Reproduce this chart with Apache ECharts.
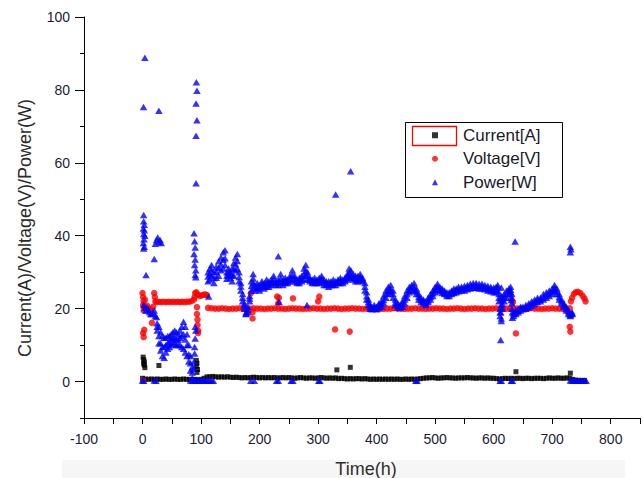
<!DOCTYPE html>
<html>
<head>
<meta charset="utf-8">
<script src="https://cdn.jsdelivr.net/npm/echarts@6/dist/echarts.min.js"></script>
<style>
html,body{margin:0;padding:0;background:#fff;}
#chart{width:643px;height:478px;}
</style>
</head>
<body>
<div id="chart"></div>
<script>
// ---------------- DATA ----------------
const xTickValues = [-100, 0, 100, 200, 300, 400, 500, 600, 700, 800];
const yTickValues = [0, 20, 40, 60, 80, 100];
const seriesNames = ['Current[A]', 'Voltage[V]', 'Power[W]'];

// Current (black squares)
const currentTime = [0,5,10,15,20,25,30,35,40,45,50,55,60,65,70,75,80,
  85,90,95,100,105,110,
  115,120,125,130,135,140,145,150,155,160,165,170,175,180,185,190,195,200,205,210,215,220,225,230,235,240,245,250,255,260,265,270,275,280,285,290,295,300,305,310,315,320,325,330,
  335,340,345,350,355,360,365,370,375,380,385,390,395,400,405,410,415,420,425,430,435,440,445,450,455,460,465,470,475,480,
  485,490,495,500,505,510,515,520,525,530,535,540,545,550,555,560,565,570,575,580,585,590,595,600,
  605,610,615,620,625,630,635,640,645,650,655,660,665,670,675,680,685,690,695,700,705,710,715,720,725,730,735,740,745,750,755,
  1,2,3,2,3,4,28,92,93,92,94,93,332,355,638,731];
const currentValue = [0.9,0.7,0.6,0.7,0.6,0.7,0.6,0.6,0.7,0.6,0.6,0.7,0.6,0.6,0.7,0.6,0.6,
  0.5,0.6,0.5,0.6,0.9,1.3,
  1.3,1.4,1.3,1.2,1.3,1.2,1.3,1.2,1.1,1.2,1.1,1.0,1.1,1.0,1.1,1.2,1.1,1.0,1.1,1.0,1.1,1.0,1.1,1.0,1.0,1.1,1.0,1.1,1.0,0.9,1.0,1.1,1.0,0.9,1.0,1.0,0.9,1.0,1.1,1.0,0.9,1.0,0.9,1.0,
  0.8,0.9,0.8,0.7,0.8,0.7,0.8,0.8,0.7,0.8,0.7,0.6,0.7,0.6,0.7,0.6,0.7,0.6,0.7,0.6,0.7,0.6,0.6,0.7,0.6,0.7,0.6,0.7,0.8,0.9,
  1.0,1.0,1.1,1.0,0.9,1.0,1.0,1.1,1.0,1.0,0.9,1.0,1.0,1.0,1.1,1.0,1.0,0.9,1.0,1.0,0.9,1.0,0.9,0.9,
  0.8,0.7,0.8,0.9,0.8,0.9,0.8,0.9,0.9,0.8,0.9,0.9,0.8,0.9,0.9,0.9,0.8,0.9,1.0,0.9,0.9,1.0,0.9,0.9,1.0,0.9,0.6,0.4,0.3,0.3,0.3,
  6.7,6.0,5.4,4.9,4.5,3.8,4.4,5.8,5.0,4.2,3.3,2.5,3.2,3.9,2.7,2.3];

// Voltage (red circles)
const voltageTime22 = [24,28,32,36,40,44,48,52,56,60,64,68,72,76,80,84,88];
const voltageValue22 = [21.8,21.9,21.8,21.9,21.8,21.9,21.8,21.9,21.8,21.9,21.8,21.9,21.8,21.9,21.9,22.1,22.5];
const voltageTime20 = [112,118,124,130,136,142,148,154,160,166,172,178,184,190,196,202,208,214,220,226,232,238,244,250,256,262,268,274,280,286,292,298,304,310,316,322,328,334,340,346,352,358,364,370,376,382,388,394,400,406,412,418,424,430,436,442,448,454,460,466,472,478,484,490,496,502,508,514,520,526,532,538,544,550,556,562,568,574,580,586,592,598,604,610,616,622,628,634,640,646,652,658,664,670,676,682,688,694,700,706,712,718,724,730];
const voltageValue20 = [20.2,20.1,20,20,20.1,20,19.9,20,20,20.1,
  20,19.9,20,20.1,20,20,19.9,20,20,20.1,
  20,20,19.9,20,20.1,20,20,19.9,20,20,
  20.1,20,20,19.9,20,20,20.1,20,19.9,20,
  20,20.1,20,20,19.9,20,20,20.1,20,20,
  19.9,20,20,20.1,20,20,19.9,20,20,20.1,
  20,20,19.9,20,20,20.1,20,20,19.9,20,
  20,20.1,20,19.9,20,20,20.1,20,20,19.9,
  20,20,20.1,20,19.9,20,20,20.1,20,20,
  19.9,20,20.1,20,20,19.9,20,20,20.1,20,
  20,19.9,20,20.1];
const voltageTimeOther = [0,1,2,1,3,4,2,5,1,2,3,1,8,10,12,14,16,18,20,21,22,
  89,90,92,95,98,101,104,107,110,
  93,93,94,94,95,95,
  732,734,737,740,744,748,752,755,757,
  185,188,188,230,232,233,257,300,302,329,354,613,616,630,633,638,730,731];
const voltageValueOther = [24.3,23.2,22,21,20.5,22.5,19.5,20.3,13.3,12.2,14.2,0.3,20.8,20,19.5,19.8,16.1,20.5,24.3,23.2,22,
  23.2,24.3,24.5,23.8,23.5,23.6,23.8,23.9,23.7,
  20.4,18.5,17,15.5,14,13.3,
  22,23,24,24.5,24.6,24.3,23.5,22.8,22,
  24.2,19,17.3,23.3,21.5,23,22.8,22,23.3,14.3,13.7,22,23.2,22.5,21.8,13.2,15,13.7];

// Power (blue triangles): main band, three readings (upper / middle / lower) per time
const powerBandTime = [112,115,118,122,126,130,134,138,141,144,
  147,150,153,156,159,162,165,168,171,174,
  177,180,183,186,189,192,196,200,204,208,
  212,216,220,224,228,232,236,240,244,248,
  252,256,260,264,268,272,276,279,282,286,
  290,294,298,302,306,310,314,318,322,326,
  330,334,338,342,346,350,353,356,360,364,
  368,372,376,380,383,386,389,392,396,400,
  404,408,412,416,420,424,428,432,436,440,
  444,448,452,456,460,464,468,472,476,480,
  484,488,492,496,500,504,508,512,516,520,
  524,528,532,536,540,545,550,555,560,565,
  570,575,580,585,590,595,600,604,607,609,
  611,613,615,618,622,626,629,631,634,638,
  642,646,650,655,660,665,670,675,680,685,
  690,695,700,704,708,712,716,720,724,728,
  731,734];
const powerBandUpper = [30,31,32,30,31.5,33,34,35.5,36,30,
  31,30,31,32.5,34,35,30,27,24,21.5,
  19,20.5,23.5,27.5,29.5,26.5,27,26.5,27.5,27,
  28,27.5,28,29,27.5,28,29.5,28,28.5,28,
  29,30.5,29,28,28.5,29,31,32,30,28.5,
  28,28.5,28,28.5,29,28,27.5,27.5,27.5,28,
  27.5,28,28.5,28,28.5,29.5,31,30.5,29.5,29,
  29,29.5,28.5,27,24.5,22.5,21,20.5,21,20.5,
  21.5,22,23.5,25,26,26.5,25,22.5,21.5,21,
  22,23.5,25,26,26.5,27,25.5,24,23,22.5,
  22,23,24,25,26,26.8,26,25.5,25,24.5,
  24.5,25,25.5,25.5,26,26,26.3,26.5,26.8,27,
  27,26.8,26.8,26.5,26.3,26,25.8,26,26.5,24,
  20,17.3,22.5,24,25,25.5,26,23,19,19.5,
  20,20.5,20.5,21,21.5,22,22.5,23,23,24,
  24.5,25,25.5,26.5,25.5,24,22.5,21.5,20.5,19.5,
  18.5,19];
const powerBandMiddle = [28.8,29.4,30.6,28.4,30.1,31.2,32.1,33.4,33.8,29.1,
  30,29.3,29.2,30.8,32.2,33.1,28.7,26.1,23,20.8,
  18.7,19.7,22.8,26.2,28.3,25.8,26.2,25.7,26.8,26.3,
  27.1,26.7,27.2,28.1,27,27.3,28.2,27.2,27.8,27.5,
  28.2,29.3,28.3,27.4,27.8,28.2,29.6,30.4,29.1,28,
  27.5,27.7,27.4,27.8,28.2,27.3,27,26.8,27,27.2,
  27.1,27.4,27.7,27.5,28,28.7,29.8,29.4,28.8,28.3,
  28.2,28.7,28,26,23.4,21.8,20.5,20.1,20.4,20.2,
  20.8,21.2,22.4,24.1,25,25.4,24,21.7,20.9,20.6,
  21.2,22.5,24,25.2,25.7,26.1,24.7,23.2,22.4,22,
  21.5,22.3,23.2,24.2,25.3,26,25.4,24.9,24.5,24,
  24,24.5,24.9,25,25.4,25.5,25.6,25.9,26.1,26.3,
  26.4,26.1,26.2,25.9,25.6,25.4,25.1,25.2,25.8,23,
  19,21,21.3,23,24,24.8,25.2,21.5,18.5,19,
  19.5,20,20.2,20.5,20.9,21.4,21.9,22.4,22.5,23.2,
  23.7,24.2,24.7,25.7,24.8,23.2,22,21,20,19,
  18.2,18.7];
const powerBandLower = [27.5,28,29,27,28.5,29,30.5,31,32,28.2,
  29,28.5,27.5,29,30.5,31,27.5,25,22,20,
  18.5,19,22,25,27,25,25.5,25,26,25.5,
  26,26,26.5,27,26.5,26.5,27,26.5,27,27,
  27.5,28,27.5,27,27,27.5,28,29,28,27.5,
  27,27,27,27,27.5,26.5,26.5,26,26.5,26.5,
  26.5,27,27,27,27.5,28,28.5,28.5,28,27.5,
  27.5,28,27.5,25,22.5,21,20,19.8,20,19.8,
  20.2,20.5,21.5,23,24,24.5,23,21,20.3,20.2,
  20.5,21.5,23,24.5,25,25,24,22.5,21.8,21.5,
  21,21.8,22.5,23.5,24.5,25.2,24.8,24.3,24,23.5,
  23.5,24,24.3,24.5,24.8,25,25,25.3,25.5,25.7,
  25.7,25.5,25.5,25.3,25,24.8,24.5,24.5,25,22,
  18,16.6,20,22,23,24,24.5,20,18,18.5,
  19,19.5,19.8,20,20.3,20.8,21.3,21.8,22,22.5,
  23,23.5,24,25,24,22.5,21.5,20.5,19.5,18.5,
  18,18.5];

// Power early decline band (0-90 h): upper / middle / lower readings
const powerDeclineTime = [25,28,31,34,37,40,43,46,49,52,55,58,61,64,67,70,73,76,79,82,85];
const powerDeclineUpper = [16,15,13.5,12.5,12,12,12.5,12.5,13,13.5,14,13.5,13,14,15,16.4,15,13,10,7,4];
const powerDeclineMiddle = [15,12.5,10.5,9.5,9.5,10,10.5,11,11.5,12,12,11.5,11.5,12,12.5,13,11.5,10,7.5,5,2.5];
const powerDeclineLower = [14,10.5,8.5,7,6.5,8,9,9.5,10,10.5,10.5,10,10,10,9.5,9,8,7,5.5,3,1];

// Power isolated readings and spikes
const powerScatterTime = [4,1.7,28,92,93,91.5,93,91.5,91.5,
  2,2,3,1.5,3,2,4,2.5,1.5,3,2,
  22,24,26,28,30,32,20,6,
  2,4,6,8,10,12,14,16,18,20,22,24,
  88,89,90,88,90,89,91,90,91,90,91,90,89,89,88,87,
  113,232,233,281,330,355.6,612,630,636.6,731,731,732,
  613,613,612,631,632,632];
const powerScatterValue = [88.8,75.3,74.3,82.1,79.8,76.3,71.7,67.4,54.4,
  45.7,44,43,42,41.5,40.5,40,39,38,37,36.5,
  37.8,38.8,39.5,38.3,38.8,38,33.6,29.2,
  21,20.2,19.5,20.3,19.5,19,18.5,18.5,19,19.5,18,17.7,
  40.7,38.5,36.8,35,33.5,32,30.5,29.2,28.6,15,14,11.8,9.5,7.7,5.5,3.5,
  23.3,34.4,21.9,21,51.3,57.7,11.4,22.4,38.4,37,35.5,36.3,
  25.8,23.5,19,24,17.5,19];

// Power readings at zero (off periods)
const powerZeroTime = [0,2,20,23,82,85,88,91,94,97,100,103,106,109,112,115,118,121,185,191,229,232,254,257,301,303,467,469,611,613,630,632,731,734,737,740,743,746,749,752,755,758];
const powerZeroValue = [0.3,0.2,0.3,0.2,0.3,0.2,0.3,0.2,0.3,0.2,0.3,0.2,0.3,0.2,0.3,0.2,0.3,0.2,0.2,0.2,0.2,0.2,0.2,0.2,0.2,0.2,0.2,0.2,0.2,0.2,0.2,0.2,0.3,0.2,0.3,0.2,0.3,0.2,0.3,0.2,0.3,0.2];

// ---------------- BUILD ----------------
function pairs(ts, vs) { return ts.map((t, i) => [t, vs[i]]); }

const currentData = pairs(currentTime, currentValue);
const voltageData = [].concat(pairs(voltageTime22, voltageValue22), pairs(voltageTime20, voltageValue20), pairs(voltageTimeOther, voltageValueOther));
const powerData = [].concat(
  pairs(powerBandTime, powerBandUpper), pairs(powerBandTime, powerBandMiddle), pairs(powerBandTime, powerBandLower),
  pairs(powerDeclineTime, powerDeclineUpper), pairs(powerDeclineTime, powerDeclineMiddle), pairs(powerDeclineTime, powerDeclineLower),
  pairs(powerScatterTime, powerScatterValue), pairs(powerZeroTime, powerZeroValue));

const FONT = '"Liberation Sans", Arial, sans-serif';
const LABEL_COLOR = '#1c1c34';

const chart = echarts.init(document.getElementById('chart'), null, {renderer: 'svg'});
chart.setOption({
  animation: false,
  backgroundColor: '#ffffff',
  grid: [
    {left: 84, top: 17, width: 563.7, height: 401},
    {left: 84, top: 17, width: 100, height: 364.5}
  ],
  xAxis: [
    {gridIndex: 0, type: 'value', min: -100, max: 850, interval: 50,
      axisLine: {onZero: false, lineStyle: {color: '#000', width: 1}},
      axisTick: {length: 6, lineStyle: {color: '#000', width: 1}},
      axisLabel: {margin: 14, fontSize: 14, fontFamily: FONT, color: LABEL_COLOR,
        formatter: v => xTickValues.indexOf(v) >= 0 ? String(v) : ''},
      splitLine: {show: false}},
    {gridIndex: 1, type: 'value', min: 0, max: 1, show: false}
  ],
  yAxis: [
    {gridIndex: 0, type: 'value', min: -10, max: 100, interval: 10,
      axisLine: {show: true, onZero: false, lineStyle: {color: '#000', width: 1}},
      axisTick: {show: true, length: 4, lineStyle: {color: '#000', width: 1}},
      axisLabel: {margin: 14, fontSize: 14, fontFamily: FONT, color: LABEL_COLOR,
        formatter: v => yTickValues.indexOf(v) >= 0 ? String(v) : ''},
      splitLine: {show: false}},
    {gridIndex: 1, type: 'value', min: 0, max: 100, interval: 20,
      axisLine: {show: false, onZero: false},
      axisTick: {show: true, length: 9, lineStyle: {color: '#000', width: 1}},
      axisLabel: {show: false},
      splitLine: {show: false}}
  ],
  legend: {
    orient: 'vertical', left: 432, top: 123.5, padding: 0,
    itemWidth: 6, itemHeight: 6, itemGap: 0,
    textStyle: {fontSize: 17, fontFamily: FONT, color: '#1a1a2a', lineHeight: 23.5, padding: [0, 0, 0, 20]},
    data: [
      {name: seriesNames[0], icon: 'rect'},
      {name: seriesNames[1], icon: 'circle'},
      {name: seriesNames[2], icon: 'triangle'}
    ]
  },
  series: [
    {name: seriesNames[0], type: 'scatter', xAxisIndex: 0, yAxisIndex: 0, symbol: 'rect', symbolSize: 5,
      itemStyle: {color: '#000000'}, data: currentData},
    {name: seriesNames[1], type: 'scatter', xAxisIndex: 0, yAxisIndex: 0, symbol: 'circle', symbolSize: 6.5,
      itemStyle: {color: '#ff0000'}, data: voltageData},
    {name: seriesNames[2], type: 'scatter', xAxisIndex: 0, yAxisIndex: 0, symbol: 'triangle', symbolSize: [7.5, 6.5],
      itemStyle: {color: '#0000ff'}, data: powerData}
  ],
  graphic: [
    {type: 'rect', z: -1, shape: {x: 62, y: 460, width: 563, height: 18}, style: {fill: '#f6f6f6'}},
    {type: 'rect', shape: {x: 405.5, y: 122.5, width: 157, height: 75}, style: {fill: 'none', stroke: '#000', lineWidth: 1}},
    {type: 'rect', shape: {x: 412.5, y: 126.5, width: 44, height: 19}, style: {fill: 'none', stroke: '#ff0000', lineWidth: 1.3}},
    {type: 'text', z: 10, x: 366, y: 469, style: {text: 'Time(h)', fontSize: 18, fontFamily: FONT, fill: '#2e2e2e', align: 'center', verticalAlign: 'middle'}},
    {type: 'text', z: 10, x: 25, y: 228, rotation: Math.PI / 2,
      style: {text: 'Current(A)/Voltage(V)/Power(W)', fontSize: 18, fontFamily: FONT, fill: '#2a2a2a', align: 'center', verticalAlign: 'middle'}}
  ]
});
</script>
</body>
</html>
